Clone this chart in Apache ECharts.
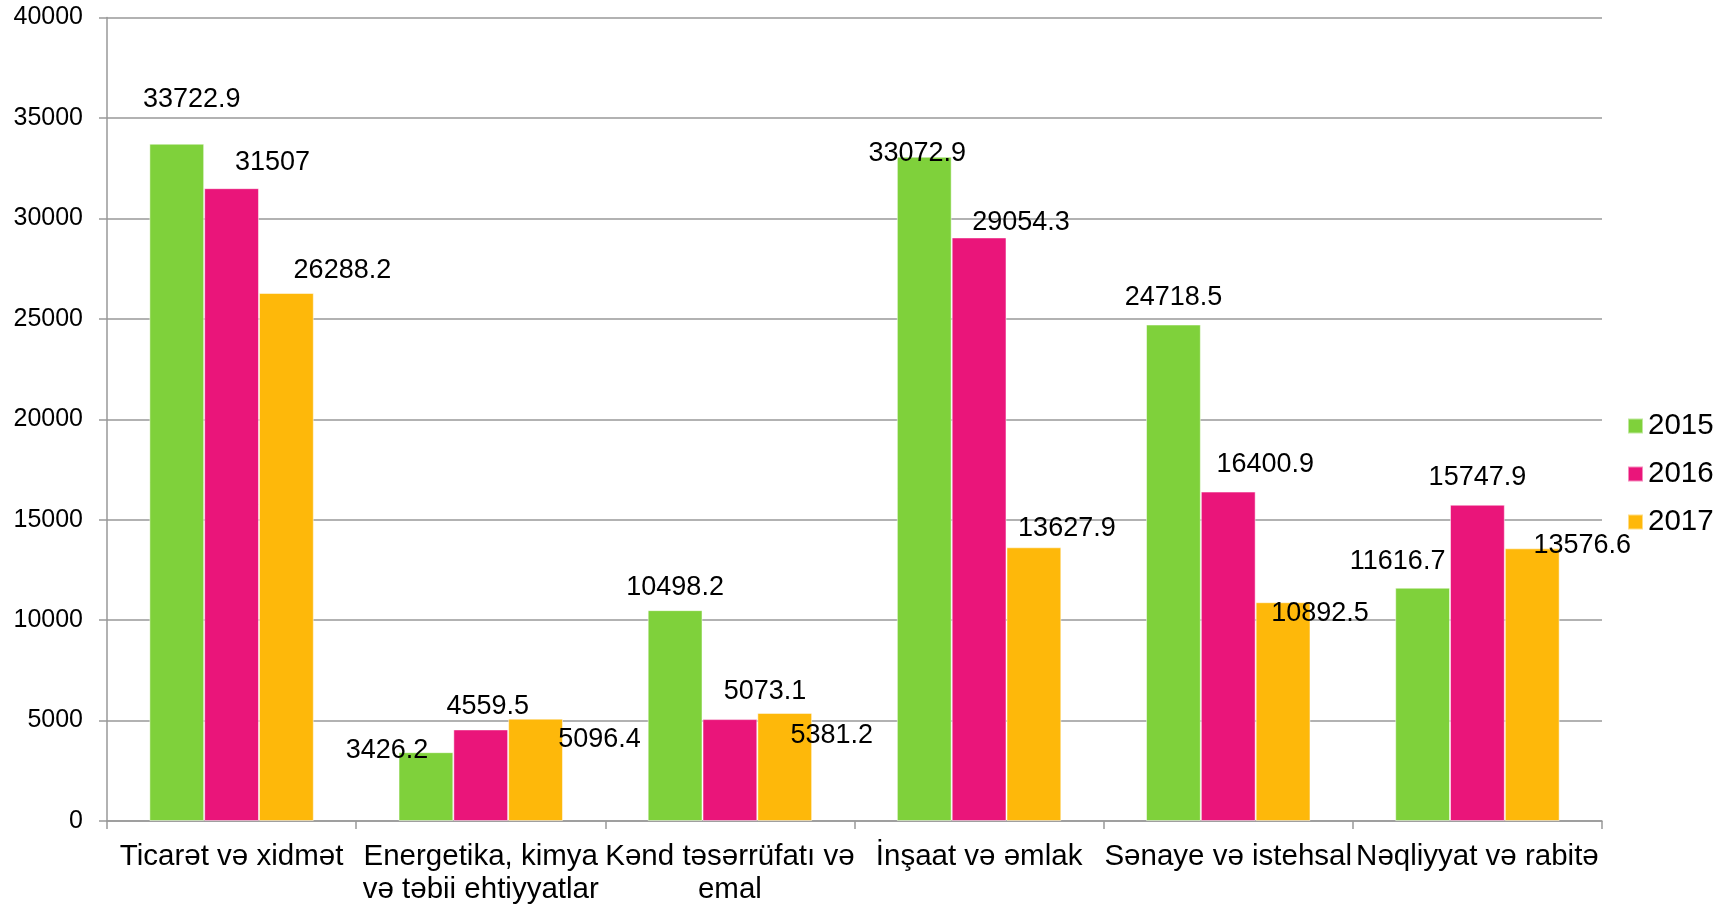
<!DOCTYPE html>
<html>
<head>
<meta charset="utf-8">
<script src="https://cdn.jsdelivr.net/npm/echarts@6/dist/echarts.min.js"></script>
<style>html,body{margin:0;padding:0;background:#fff}#c{width:1729px;height:906px}</style>
</head>
<body>
<div id="c"></div>
<script>
const categories = ["Ticarət və xidmət", "Energetika, kimya\nvə təbii ehtiyyatlar", "Kənd təsərrüfatı və\nemal", "İnşaat və əmlak", "Sənaye və istehsal", "Nəqliyyat və rabitə"];
const years = ["2015", "2016", "2017"];
const values2015 = [33722.9, 3426.2, 10498.2, 33072.9, 24718.5, 11616.7];
const values2016 = [31507, 4559.5, 5073.1, 29054.3, 16400.9, 15747.9];
const values2017 = [26288.2, 5096.4, 5381.2, 13627.9, 10892.5, 13576.6];
const yTicks = { min: 0, max: 40000, interval: 5000 };

// label nudges (style only) to mimic the reference's manual label placement
const labelNudge2015 = [[15, -31], [-39, 11], [0, -10], [-7, 10], [0, -14], [-25, -13]];
const labelNudge2016 = [[41, -13], [7, -10], [35, -15], [42, -2], [37, -14], [0, -14]];
const labelNudge2017 = [[56, -9], [64, 34], [47, 36], [33, -6], [37, 24], [50, 10]];

const colors = ["#7FD13B", "#EA157A", "#FEB80A"];
const FONT = "'Liberation Sans', Arial, sans-serif";

function mkSeries(name, vals, nudges, color) {
  return {
    name: name,
    type: 'bar',
    barGap: '0%',
    barCategoryGap: '34%',
    itemStyle: { color: color, borderColor: 'rgba(255,255,255,0.5)', borderWidth: 1 },
    data: vals.map((v, i) => ({
      value: v,
      label: { offset: nudges[i] }
    })),
    label: {
      show: true,
      position: 'top',
      distance: 0,
      fontFamily: FONT,
      fontSize: 27,
      lineHeight: 26,
      color: '#000',
      formatter: p => String(p.value)
    }
  };
}

const chart = echarts.init(document.getElementById('c'), null, { renderer: 'canvas' });
chart.setOption({
  animation: false,
  color: colors,
  textStyle: { fontFamily: FONT },
  grid: { left: 107, right: 127, top: 17.6, bottom: 84.5, containLabel: false },
  legend: {
    orient: 'vertical',
    left: 1622,
    top: 406,
    itemWidth: 15,
    itemHeight: 15,
    itemGap: 18,
    icon: 'rect',
    textStyle: { fontFamily: FONT, fontSize: 29.5, color: '#000' },
    data: years
  },
  xAxis: {
    type: 'category',
    data: categories,
    axisLine: { lineStyle: { color: '#999', width: 1.5 } },
    axisTick: { show: true, length: 8, lineStyle: { color: '#999', width: 1.5 } },
    axisLabel: {
      interval: 0,
      fontFamily: FONT,
      fontSize: 29.5,
      lineHeight: 33,
      color: '#000',
      margin: 19
    }
  },
  yAxis: {
    type: 'value',
    min: yTicks.min,
    max: yTicks.max,
    interval: yTicks.interval,
    axisLine: { show: true, lineStyle: { color: '#999', width: 1.5 } },
    axisTick: { show: true, length: 8, lineStyle: { color: '#999', width: 1.5 } },
    splitLine: { lineStyle: { color: '#999', width: 1.5 } },
    axisLabel: { fontFamily: FONT, fontSize: 25, color: '#000', margin: 24, formatter: v => String(v) }
  },
  series: [
    mkSeries(years[0], values2015, labelNudge2015, colors[0]),
    mkSeries(years[1], values2016, labelNudge2016, colors[1]),
    mkSeries(years[2], values2017, labelNudge2017, colors[2])
  ]
});
</script>
</body>
</html>
